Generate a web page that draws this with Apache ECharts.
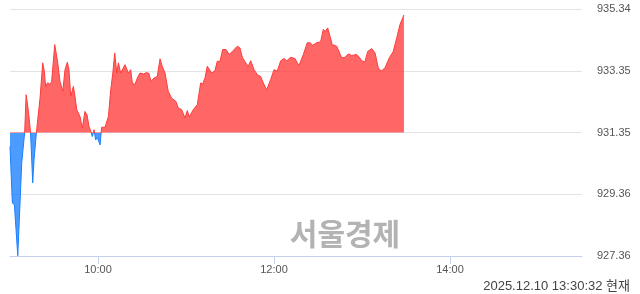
<!DOCTYPE html>
<html><head><meta charset="utf-8">
<script src="https://cdn.jsdelivr.net/npm/echarts@6/dist/echarts.min.js"></script>
<style>html,body{margin:0;padding:0;background:#fff}#c{width:640px;height:294px}</style>
</head><body><div id="c"></div>
<script>
// minutes after 09:00
const minutes = [0,1.6,3,5.3,8,9,10,11,12.6,14,15.5,16.4,18,18.9,20.5,22.3,23.4,24.3,25.7,27.3,28.4,30.5,32.5,34.1,35,36,37.5,39.1,40.2,41.4,43.2,44.3,45.5,47.7,49.3,51.1,52.5,53.9,55.2,56.1,57.3,58.4,59.7,61.4,62.5,64.8,65.5,67.1,68.7,70.1,71.4,72.8,73.9,75.5,78.4,80.7,82.3,83.4,85.2,86.8,88.6,91,93.2,94.8,96.1,98.2,100.4,102.3,103.8,105.7,107.9,110.2,113.2,114.7,117,119.3,120.9,122.2,125,127.7,130,131.4,133,134.5,137.5,139.8,141.3,143.2,145,146.1,147.3,149.5,151.6,155,156.8,158.4,160.7,162.5,164.1,166.4,168.6,170.9,172.7,175,177.7,180,182.2,184.6,186.8,188.7,191.4,194.3,197,200,202.7,204.5,206.4,209.1,211.8,213.6,215,216.6,218.2,219.7,222.7,226.2,228.4,230.7,233,236.4,238.2,239.8,242,243.9,246.6,248.9,251.1,253,255.7,258.6,261.3,263.7,265.9,268.6];
const values = [930.90,929.07,929.01,927.37,930.37,930.40,931.35,932.57,932.02,931.35,929.72,930.47,931.35,931.76,932.47,933.60,933.33,932.84,932.96,932.90,933.00,934.19,933.61,933.00,933.02,932.68,933.38,933.62,933.38,932.52,932.84,932.52,932.09,931.87,931.49,932.03,931.92,931.54,931.38,931.22,931.44,931.11,931.18,930.95,931.52,931.52,931.54,931.87,932.73,933.27,933.92,933.27,933.60,933.27,933.54,933.27,933.38,932.95,932.90,933.11,933.27,933.24,933.29,933.25,933.00,933.11,933.16,933.73,933.49,933.27,932.68,932.46,932.35,932.14,932.09,931.82,932.06,931.85,932.09,932.25,932.95,932.92,933.12,933.49,933.27,933.35,933.65,933.65,934.03,933.97,934.03,933.87,933.97,934.14,934.08,933.78,933.60,933.49,933.67,933.38,933.22,933.16,932.95,932.73,933.06,933.38,933.33,933.67,933.74,933.67,933.78,933.74,933.51,933.87,934.25,934.25,934.17,934.25,934.28,934.68,934.62,934.73,934.46,934.19,934.14,933.76,933.78,933.89,933.84,933.87,933.78,933.67,933.63,933.97,934.06,933.92,933.44,933.33,933.44,933.76,933.97,934.41,934.84,935.15];
const baseValue = 931.35;
const yTickLabels = ['927.36','929.36','931.35','933.35','935.34'];
const xTickMinutes = [60,180,300];
const xTickLabels = ['10:00','12:00','14:00'];
const watermark = '서울경제';
const timestamp = '2025.12.10 13:30:32 현재';
const yMin = 927.36, yMax = 935.34, yStep = 1.995;

const FONT = "'Liberation Sans', 'Noto Sans CJK KR', sans-serif";
const chart = echarts.init(document.getElementById('c'));
chart.setOption({
  animation: false,
  grid: {left: 10, right: 58, top: 9, height: 247},
  xAxis: {
    type: 'value', min: 0, max: 390,
    axisLine: {lineStyle: {color: '#c5d3ea'}},
    axisTick: {customValues: xTickMinutes, length: 8, lineStyle: {color: '#c5d3ea'}},
    axisLabel: {customValues: xTickMinutes, formatter: v => xTickLabels[xTickMinutes.indexOf(v)] || '',
      color: '#555', fontSize: 11, margin: 8, fontFamily: FONT},
    splitLine: {show: false}
  },
  yAxis: {
    type: 'value', position: 'right', min: yMin, max: yMax, interval: yStep,
    axisLine: {show: false}, axisTick: {show: false},
    axisLabel: {formatter: v => yTickLabels[Math.round((v - yMin) / yStep)] || '', margin: 15,
      color: '#555', fontSize: 11, fontFamily: FONT},
    splitLine: {lineStyle: {color: '#e3e3e3'}}
  },
  visualMap: {show: false, type: 'piecewise', dimension: 1, seriesIndex: 0,
    pieces: [{gte: 900, lt: baseValue - 0.02, color: '#1a80ff'}, {gte: baseValue - 0.02, lte: 960, color: '#ff3b3b'}]},
  series: [{
    type: 'line', data: minutes.map((m, i) => [m, values[i]]),
    showSymbol: false, lineStyle: {width: 1},
    areaStyle: {origin: baseValue, opacity: 0.78}
  }],
  graphic: [
    {type: 'text', x: 345, y: 234, z: 0, style: {text: watermark, font: "bold 30px 'Noto Sans CJK KR'", fill: '#b3b3b3', textAlign: 'center', textVerticalAlign: 'middle'}},
    {type: 'text', x: 630, y: 286, style: {text: timestamp, font: "13px " + FONT, fill: '#444', textAlign: 'right', textVerticalAlign: 'middle'}}
  ]
});
</script></body></html>
